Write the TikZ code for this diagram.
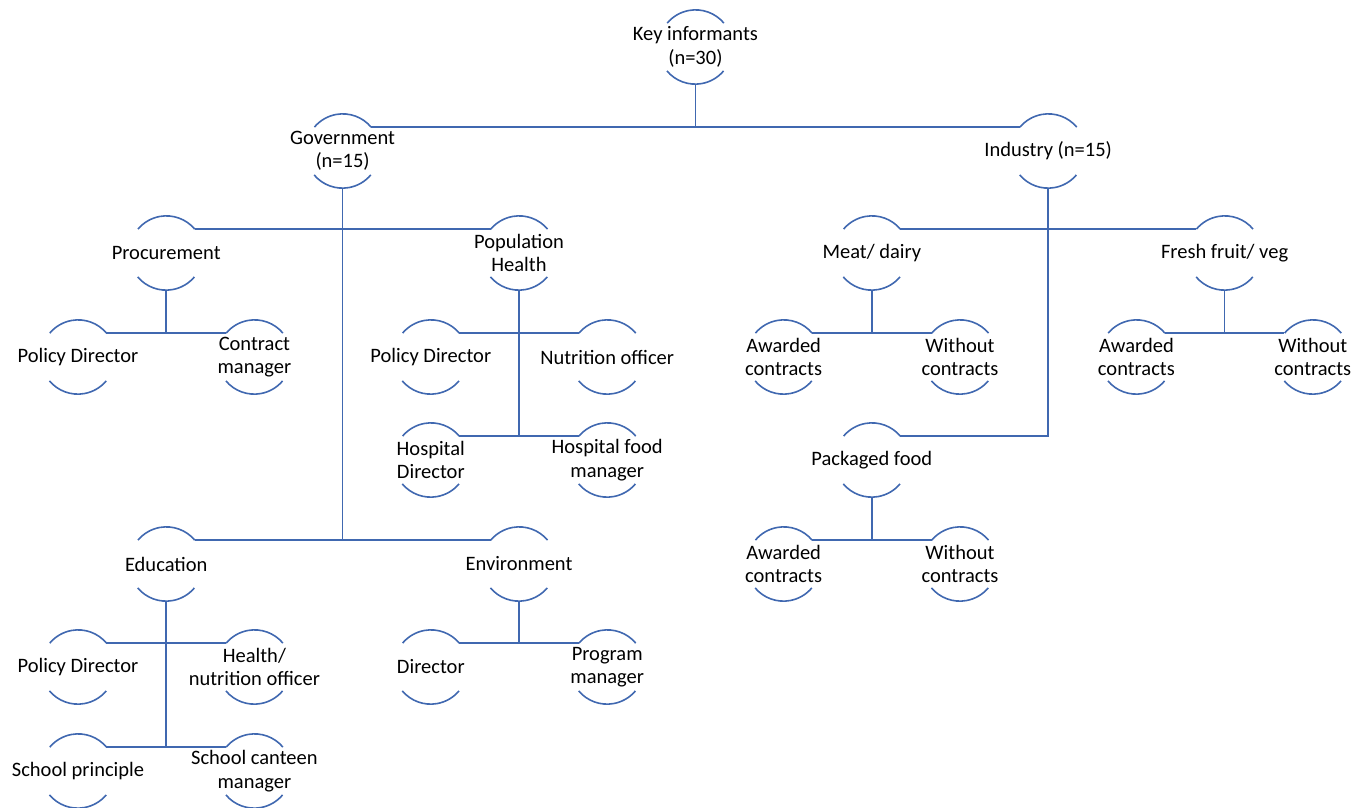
\documentclass[tikz,border=0pt]{standalone}
\usepackage{fontspec}
\setmainfont{Carlito}
\definecolor{kiblue}{RGB}{64,104,176}
\tikzset{
  kcirc/.style={circle,minimum size=74pt,inner sep=0pt,draw=none},
  ktext/.style={align=center,inner sep=0pt,font=\fontsize{20.5}{23.5}\selectfont,text=black},
  karc/.style={draw=kiblue,line width=1.6pt},
  kline/.style={draw=kiblue,line width=1.6pt}
}
\newcommand\kinode[3]{%
  \node[kcirc] (#1) at (#2) {};
  \node[ktext] (#1-t) at (#1.center) {#3};
  \draw[karc] (#1.40) arc[start angle=40,end angle=140,radius=37pt];
  \draw[karc] (#1.220) arc[start angle=220,end angle=320,radius=37pt];
}
\begin{document}
\begin{tikzpicture}[x=1pt,y=1pt]
\useasboundingbox (0,0) rectangle (1367,-807);
% levels
\def\La{-47}\def\Lb{-151}\def\Lc{-253}\def\Ld{-357}\def\Le{-460}\def\Lf{-564}\def\Lg{-667}\def\Lh{-771}
\kinode{root}{695.4,\La}{Key informants\\(n=30)}
\kinode{gov}{342.6,\Lb}{Government\\(n=15)}
\kinode{ind}{1048.2,\Lb}{Industry (n=15)}
\kinode{proc}{166.2,\Lc}{Procurement}
\kinode{pop}{519,\Lc}{Population\\Health}
\kinode{pda}{78,\Ld}{Policy Director}
\kinode{cm}{254.4,\Ld}{Contract\\manager}
\kinode{pdb}{430.8,\Ld}{Policy Director}
\kinode{no}{607.2,\Ld}{Nutrition officer}
\kinode{hd}{430.8,\Le}{Hospital\\Director}
\kinode{hfm}{607.2,\Le}{Hospital food\\manager}
\kinode{edu}{166.2,\Lf}{Education}
\kinode{env}{519,\Lf}{Environment}
\kinode{pdc}{78,\Lg}{Policy Director}
\kinode{hn}{254.4,\Lg}{Health/\\nutrition officer}
\kinode{dir}{430.8,\Lg}{Director}
\kinode{pm}{607.2,\Lg}{Program\\manager}
\kinode{sp}{78,\Lh}{School principle}
\kinode{scm}{254.4,\Lh}{School canteen\\manager}
\kinode{meat}{871.8,\Lc}{Meat/ dairy}
\kinode{fresh}{1224.6,\Lc}{Fresh fruit/ veg}
\kinode{awa}{783.6,\Ld}{Awarded\\contracts}
\kinode{woa}{960,\Ld}{Without\\contracts}
\kinode{awb}{1136.4,\Ld}{Awarded\\contracts}
\kinode{wob}{1312.8,\Ld}{Without\\contracts}
\kinode{pack}{871.8,\Le}{Packaged food}
\kinode{awc}{783.6,\Lf}{Awarded\\contracts}
\kinode{woc}{960,\Lf}{Without\\contracts}
% connectors
\draw[kline] (root.270) -- (root.270 |- gov.40);
\draw[kline] (gov.40) -- (ind.140);
\draw[kline] (gov.270) -- (gov.270 |- edu.40);
\draw[kline] (proc.40) -- (pop.140);
\draw[kline] (edu.40) -- (env.140);
\draw[kline] (ind.270) |- (pack.40);
\draw[kline] (meat.40) -- (fresh.140);
\draw[kline] (proc.270) -- (proc.270 |- pda.40);
\draw[kline] (pda.40) -- (cm.140);
\draw[kline] (pop.270) -- (pop.270 |- hd.40);
\draw[kline] (pdb.40) -- (no.140);
\draw[kline] (hd.40) -- (hfm.140);
\draw[kline] (edu.270) -- (edu.270 |- sp.40);
\draw[kline] (pdc.40) -- (hn.140);
\draw[kline] (sp.40) -- (scm.140);
\draw[kline] (env.270) -- (env.270 |- dir.40);
\draw[kline] (dir.40) -- (pm.140);
\draw[kline] (meat.270) -- (meat.270 |- awa.40);
\draw[kline] (awa.40) -- (woa.140);
\draw[kline] (fresh.270) -- (fresh.270 |- awb.40);
\draw[kline] (awb.40) -- (wob.140);
\draw[kline] (pack.270) -- (pack.270 |- awc.40);
\draw[kline] (awc.40) -- (woc.140);
\end{tikzpicture}
\end{document}
